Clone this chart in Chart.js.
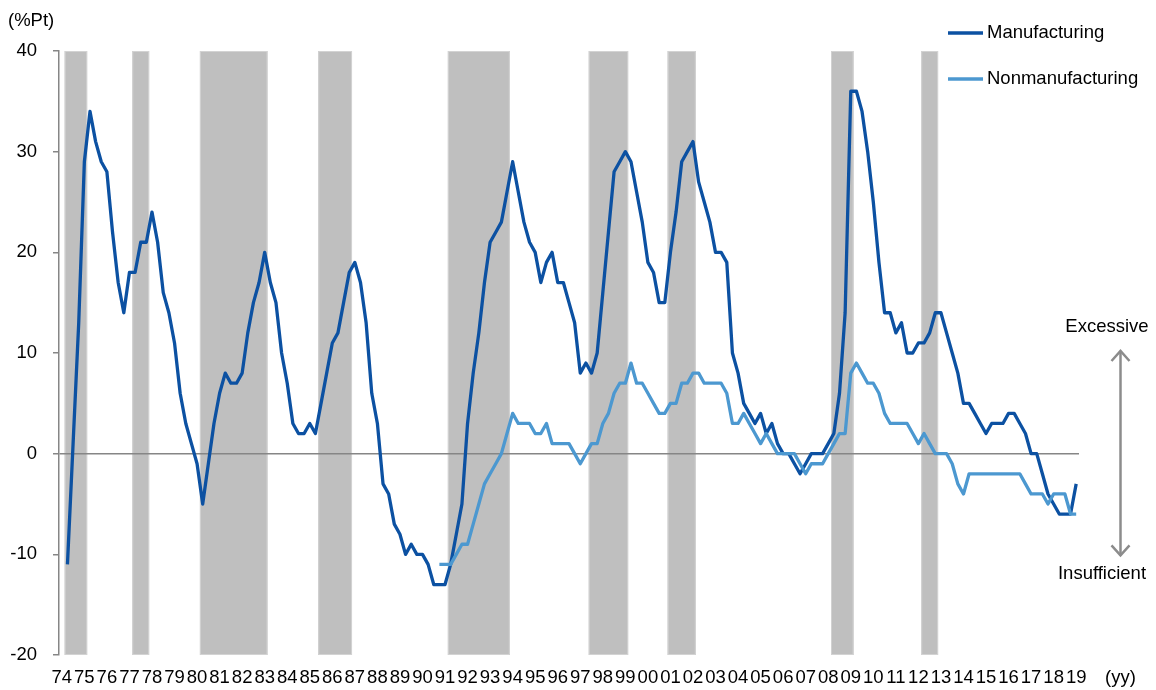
<!DOCTYPE html>
<html>
<head>
<meta charset="utf-8">
<title>Production capacity DI</title>
<script src="https://cdn.jsdelivr.net/npm/chart.js@4.4.1/dist/chart.umd.min.js"></script>
<style>
  html, body { margin: 0; padding: 0; background: #ffffff; }
  #wrap { position: relative; width: 1156px; height: 690px; }
</style>
</head>
<body>
<div id="wrap"><canvas id="chart" width="1156" height="690"></canvas></div>
<script>
// Year tick labels (one per Q1) and quarter suffixes used to build the categories
const yearLabels = ['74','75','76','77','78','79','80','81','82','83','84','85','86','87','88','89',
  '90','91','92','93','94','95','96','97','98','99','00','01','02','03','04','05','06','07','08',
  '09','10','11','12','13','14','15','16','17','18','19'];
const quarterNames = ['Q1', 'Q2', 'Q3', 'Q4'];

// Manufacturing DI, quarterly from 74Q1 (no survey value in the first quarter)
const manufacturing = [
  null, -11, 1, 13, 29, 34, 31, 29, 28,
  22, 17, 14, 18, 18, 21, 21, 24,
  21, 16, 14, 11, 6, 3, 1, -1,
  -5, -1, 3, 6, 8, 7, 7, 8,
  12, 15, 17, 20, 17, 15, 10, 7,
  3, 2, 2, 3, 2, 5, 8, 11,
  12, 15, 18, 19, 17, 13, 6, 3,
  -3, -4, -7, -8, -10, -9, -10, -10,
  -11, -13, -13, -13, -11, -8, -5, 3,
  8, 12, 17, 21, 22, 23, 26, 29,
  26, 23, 21, 20, 17, 19, 20, 17,
  17, 15, 13, 8, 9, 8, 10, 16,
  22, 28, 29, 30, 29, 26, 23, 19,
  18, 15, 15, 20, 24, 29, 30, 31,
  27, 25, 23, 20, 20, 19, 10, 8,
  5, 4, 3, 4, 2, 3, 1, 0,
  0, -1, -2, -1, 0, 0, 0, 1,
  2, 6, 14, 36, 36, 34, 30, 25,
  19, 14, 14, 12, 13, 10, 10, 11,
  11, 12, 14, 14, 12, 10, 8, 5,
  5, 4, 3, 2, 3, 3, 3, 4,
  4, 3, 2, 0, 0, -2, -4, -5,
  -6, -6, -6, -3
];

// Nonmanufacturing DI, quarterly from 90Q4
const nonmanufacturingFrom = '90Q4';
const nonmanufacturingValues = [
  -11, -11, -11, -10, -9, -9, -7, -5, -3, -2, -1, 0, 2, 4,
  3, 3, 3, 2, 2, 3, 1, 1, 1, 1, 0, -1, 0, 1, 1, 3,
  4, 6, 7, 7, 9, 7, 7, 6, 5, 4, 4, 5, 5, 7, 7, 8,
  8, 7, 7, 7, 7, 6, 3, 3, 4, 3, 2, 1, 2, 1, 0, 0,
  0, 0, -1, -2, -1, -1, -1, 0, 1, 2, 2, 8, 9, 8, 7, 7,
  6, 4, 3, 3, 3, 3, 2, 1, 2, 1, 0, 0, 0, -1, -3, -4,
  -2, -2, -2, -2, -2, -2, -2, -2, -2, -2, -3, -4, -4, -4, -5, -4,
  -4, -4, -6, -6
];

// Shaded recession periods (first and last quarter)
const recessionStart = ['74Q2', '77Q2', '80Q2', '85Q3', '91Q2', '97Q3', '01Q1', '08Q2', '12Q2'];
const recessionEnd   = ['75Q1', '77Q4', '83Q1', '86Q4', '93Q4', '99Q1', '02Q1', '09Q1', '12Q4'];

// Value axis
const yMin = -20, yMax = 40, yStep = 10;

const categories = yearLabels
  .flatMap(y => quarterNames.map(q => y + q))
  .slice(0, manufacturing.length);
const nonStart = categories.indexOf(nonmanufacturingFrom);
const nonmanufacturing = categories.map((c, i) =>
  i < nonStart ? null : (nonmanufacturingValues[i - nonStart] ?? null));

const FONT = "'Liberation Sans', Arial, Helvetica, sans-serif";
const FONT_SIZE = 18.5;
const AXIS_GREY = '#868686';
const COLOR_MFG = '#0C51A2';
const COLOR_NON = '#4C98D0';

// Grey recession bands, painted before the grid so the zero line sits on top
const recessionBands = {
  id: 'recessionBands',
  beforeDraw(chart) {
    const { ctx, scales: { x, y } } = chart;
    const half = (x.getPixelForValue(1) - x.getPixelForValue(0)) / 2;
    const top = y.getPixelForValue(yMax);
    const bottom = y.getPixelForValue(yMin);
    ctx.save();
    recessionStart.forEach((s, k) => {
      const left = x.getPixelForValue(categories.indexOf(s)) - half;
      const right = x.getPixelForValue(categories.indexOf(recessionEnd[k])) + half;
      ctx.fillStyle = '#BFBFBF';
      ctx.fillRect(left, top, right - left, bottom - top);
      ctx.strokeStyle = '#D3D3D3';
      ctx.lineWidth = 1;
      ctx.strokeRect(left + 0.5, top + 0.5, right - left - 1, bottom - top - 1);
    });
    ctx.restore();
  }
};

// Unit labels, legend and the excessive/insufficient arrow
const chartNotes = {
  id: 'chartNotes',
  afterDraw(chart) {
    const { ctx, scales: { y } } = chart;
    ctx.save();
    ctx.fillStyle = '#000000';
    ctx.font = FONT_SIZE + 'px ' + FONT;

    ctx.textAlign = 'left';
    ctx.textBaseline = 'alphabetic';
    ctx.fillText('(%Pt)', 8, 26);
    ctx.textBaseline = 'middle';
    ctx.fillText('(yy)', 1105, 678);

    // legend
    const rows = [33, 79];
    chart.data.datasets.forEach((ds, k) => {
      ctx.strokeStyle = ds.borderColor;
      ctx.lineWidth = 3.3;
      ctx.beginPath();
      ctx.moveTo(948, rows[k]);
      ctx.lineTo(983, rows[k]);
      ctx.stroke();
      ctx.fillStyle = '#000000';
      ctx.textAlign = 'left';
      ctx.textBaseline = 'middle';
      ctx.fillText(ds.label, 987, rows[k]);
    });

    // arrow
    const ax = 1120.5;
    const yTop = y.getPixelForValue(10.3);
    const yBot = y.getPixelForValue(-10.2);
    ctx.strokeStyle = '#8C8C8C';
    ctx.lineWidth = 2.5;
    ctx.lineCap = 'butt';
    ctx.beginPath();
    ctx.moveTo(ax, yTop + 1);
    ctx.lineTo(ax, yBot - 1);
    ctx.stroke();
    ctx.lineJoin = 'miter';
    ctx.beginPath();
    ctx.moveTo(ax - 9, yTop + 11);
    ctx.lineTo(ax, yTop + 1);
    ctx.lineTo(ax + 9, yTop + 11);
    ctx.moveTo(ax - 9, yBot - 11);
    ctx.lineTo(ax, yBot - 1);
    ctx.lineTo(ax + 9, yBot - 11);
    ctx.stroke();

    ctx.fillStyle = '#000000';
    ctx.textAlign = 'center';
    ctx.textBaseline = 'alphabetic';
    ctx.fillText('Excessive', 1107, 332);
    ctx.fillText('Insufficient', 1102, 579);
    ctx.restore();
  }
};

new Chart(document.getElementById('chart'), {
  type: 'line',
  data: {
    labels: categories,
    datasets: [
      {
        label: 'Manufacturing',
        data: manufacturing,
        borderColor: COLOR_MFG,
        backgroundColor: COLOR_MFG,
        borderWidth: 3.3,
        pointRadius: 0,
        tension: 0,
        borderJoinStyle: 'round',
        spanGaps: false,
        order: 1
      },
      {
        label: 'Nonmanufacturing',
        data: nonmanufacturing,
        borderColor: COLOR_NON,
        backgroundColor: COLOR_NON,
        borderWidth: 3.3,
        pointRadius: 0,
        tension: 0,
        borderJoinStyle: 'round',
        spanGaps: false,
        order: 0
      }
    ]
  },
  options: {
    responsive: false,
    animation: false,
    devicePixelRatio: 1,
    layout: { padding: { top: 51, right: 77, bottom: 0, left: 0 } },
    plugins: {
      legend: { display: false },
      tooltip: { enabled: false }
    },
    scales: {
      x: {
        type: 'category',
        offset: true,
        grid: { display: false, drawTicks: false },
        border: { display: false },
        ticks: {
          autoSkip: false,
          maxRotation: 0,
          minRotation: 0,
          padding: 12,
          color: '#000000',
          font: { family: FONT, size: FONT_SIZE },
          callback(value, index) {
            const c = categories[index];
            return c.endsWith('Q1') ? c.slice(0, 2) : '';
          }
        },
        afterFit(scale) { scale.height = 35; }
      },
      y: {
        min: yMin,
        max: yMax,
        ticks: {
          stepSize: yStep,
          padding: 16,
          color: '#000000',
          font: { family: FONT, size: FONT_SIZE }
        },
        grid: {
          drawTicks: true,
          tickLength: 6,
          tickColor: AXIS_GREY,
          tickWidth: 1.5,
          lineWidth: 1.5,
          color(ctx) { return ctx.tick && ctx.tick.value === 0 ? AXIS_GREY : 'rgba(0,0,0,0)'; }
        },
        border: { display: true, color: AXIS_GREY, width: 1.5 },
        afterFit(scale) { scale.width = 59; }
      }
    }
  },
  plugins: [recessionBands, chartNotes]
});
</script>
</body>
</html>
